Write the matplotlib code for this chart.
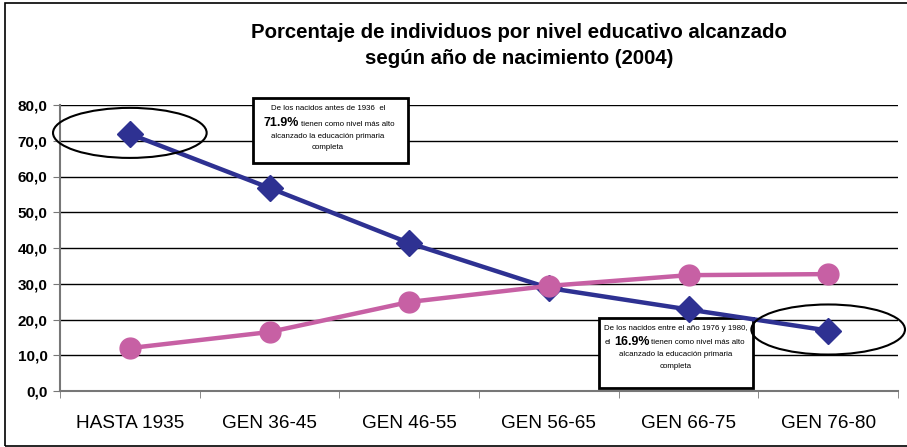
import matplotlib.pyplot as plt
from matplotlib.patches import Ellipse, Rectangle

plt.rcParams['font.family'] = ['Liberation Sans', 'DejaVu Sans']

generaciones = ['HASTA 1935', 'GEN 36-45', 'GEN 46-55', 'GEN 56-65', 'GEN 66-75', 'GEN 76-80']
primaria = [71.9, 56.8, 41.4, 28.8, 22.8, 16.9]
otro_nivel = [12.0, 16.5, 24.9, 29.4, 32.4, 32.7]
y_ticks = [0, 10, 20, 30, 40, 50, 60, 70, 80]

AZUL = '#2E3192'
ROSA = '#C760A4'

W, H = 907, 447


def fx(px):
    return px / W


def fy(py):
    return 1 - py / H


fig = plt.figure(figsize=(W / 100, H / 100), dpi=100)
ax = fig.add_axes([fx(60), fy(391), fx(898) - fx(60), fy(105) - fy(391)])

x = list(range(len(generaciones)))
ax.plot(x, primaria, color=AZUL, lw=3.2, marker='D', markersize=13, zorder=4)
ax.plot(x, otro_nivel, color=ROSA, lw=3.2, marker='o', markersize=15, zorder=5)

ax.set_xlim(-0.5, len(generaciones) - 0.5)
ax.set_ylim(0, 80)
ax.set_yticks(y_ticks)
ax.set_yticklabels([f'{v:.1f}'.replace('.', ',') for v in y_ticks], fontweight='bold', fontsize=11)
ax.set_xticks(x)
ax.set_xticklabels(generaciones, fontsize=13.7)
ax.set_xticks([i - 0.5 for i in range(len(generaciones) + 1)], minor=True)
ax.tick_params(axis='x', which='major', length=0, pad=17)
ax.tick_params(axis='x', which='minor', length=5, color='#777777', direction='out')
ax.tick_params(axis='y', length=5, color='#777777', pad=4)
ax.yaxis.grid(True, color='black', lw=1)
ax.set_axisbelow(True)
for s in ['top', 'right']:
    ax.spines[s].set_visible(False)
for s in ['left', 'bottom']:
    ax.spines[s].set_color('#777777')
    ax.spines[s].set_linewidth(1.5)

# ellipses around first and last blue points
for i in [0, len(primaria) - 1]:
    ax.add_patch(Ellipse((i, primaria[i] + 0.3), 1.1, 14, fill=False, ec='black', lw=1.5,
                         clip_on=False, zorder=6))

fig.text(fx(519), fy(32), 'Porcentaje de individuos por nivel educativo alcanzado',
         ha='center', va='center', fontsize=14.7, fontweight='bold')
fig.text(fx(519), fy(58), 'según año de nacimiento (2004)',
         ha='center', va='center', fontsize=14.7, fontweight='bold')


def caja(x0, y0, ancho, alto):
    ax.add_patch(Rectangle((fx(x0), fy(y0 + alto)), fx(ancho), fy(0) - fy(alto), fill=True,
                           fc='white', ec='black', lw=2, transform=fig.transFigure,
                           clip_on=False, zorder=3))


def texto(px, py, s, ha='center', size=5.7, bold=False):
    ax.text(fx(px), fy(py), s, ha=ha, va='center', fontsize=size,
            fontweight='bold' if bold else 'normal', transform=fig.transFigure,
            clip_on=False, zorder=3.5)


# annotation boxes
caja(253, 98, 155, 65)
texto(328, 108, 'De los nacidos antes de 1936  el')
texto(299, 123, '71.9%', ha='right', size=9, bold=True)
texto(301, 124, 'tienen como nivel más alto', ha='left')
texto(328, 137, 'alcanzado la educación primaria')
texto(328, 147, 'completa')

caja(599, 318, 154, 70)
texto(676, 328, 'De los nacidos entre el año 1976 y 1980,')
texto(605, 343, 'el', ha='left')
texto(614, 342, '16.9%', ha='left', size=9, bold=True)
texto(651, 343, 'tienen como nivel más alto', ha='left')
texto(676, 355, 'alcanzado la educación primaria')
texto(676, 366, 'completa')

# outer chart frame
fig.add_artist(Rectangle((fx(5), fy(446)), fx(910), fy(0) - fy(443), fill=False, ec='black',
                         lw=1.2, transform=fig.transFigure))

fig.savefig('out.png', dpi=100)
